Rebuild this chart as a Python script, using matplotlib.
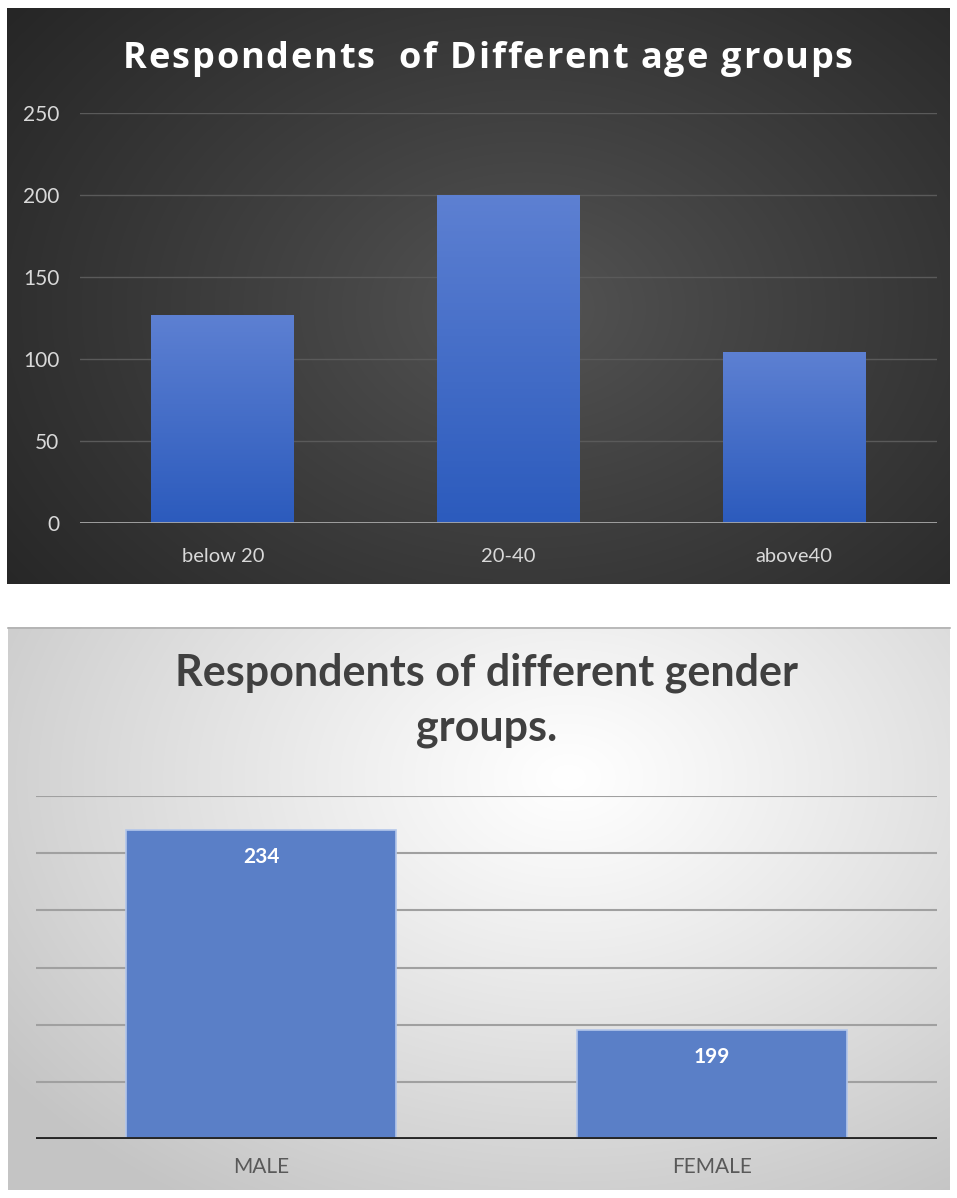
import matplotlib
matplotlib.use("Agg")
import matplotlib.pyplot as plt
import numpy as np
from matplotlib.textpath import TextPath
from matplotlib.font_manager import FontProperties

# data
age_groups = ['below 20', '20-40', 'above40']
age_counts = [127, 200, 104]
age_ticks = [0, 50, 100, 150, 200, 250]

genders = ['MALE', 'FEMALE']
gender_counts = [234, 199]

W, H = 957, 1198
plt.rcParams['font.family'] = ['Lato', 'DejaVu Sans']


def radial(w, h, cx, cy, inner, outer, power=1.0):
    yy, xx = np.mgrid[0:h, 0:w]
    d = np.sqrt(((xx - cx) / (w * 0.75)) ** 2 + ((yy - cy) / (h * 0.9)) ** 2)
    d = np.clip(d, 0, 1) ** power
    inner = np.array(matplotlib.colors.to_rgb(inner))
    outer = np.array(matplotlib.colors.to_rgb(outer))
    return inner[None, None, :] * (1 - d[..., None]) + outer[None, None, :] * d[..., None]


def gradient_bars(ax, bars, top_col, bot_col, zorder=3):
    top = np.array(matplotlib.colors.to_rgb(top_col))
    bot = np.array(matplotlib.colors.to_rgb(bot_col))
    t = np.linspace(0, 1, 100)[:, None]
    img = (top[None, :] * (1 - t) + bot[None, :] * t)[:, None, :]
    for b in bars:
        x0, y0 = b.get_x(), b.get_y()
        im = ax.imshow(img, extent=(x0, x0 + b.get_width(), y0, y0 + b.get_height()),
                       aspect='auto', zorder=zorder, origin='upper')
        im.set_clip_path(b)


def tracked_text(ax, s, xc, y, size, track, **kw):
    # draw text char by char with extra letter spacing (pixels); ax in pixel coords
    fp = FontProperties(family=kw.pop('family'), weight='bold', size=size)
    scale = 100 / 72  # points -> pixels
    ip = TextPath((0, 0), 'I', prop=fp).get_extents().x1
    starts = []
    for i in range(len(s)):
        pre = s[:i]
        if pre:
            tp = TextPath((0, 0), pre + 'I', prop=fp)
            starts.append((tp.get_extents().x1 - ip) * scale)
        else:
            starts.append(0)
    full = TextPath((0, 0), s, prop=fp).get_extents().x1 * scale
    total = full + track * (len(s) - 1)
    x0 = xc - total / 2
    for i, ch in enumerate(s):
        if ch == ' ':
            continue
        ax.text(x0 + starts[i] + track * i, y, ch, ha='left', va='center', fontproperties=fp, **kw)


fig = plt.figure(figsize=(W / 100, H / 100), dpi=100)
fig.patch.set_facecolor('white')

# background panels
bg = fig.add_axes([0, 0, 1, 1], zorder=-5)
bg.set_xlim(0, W)
bg.set_ylim(H, 0)
bg.axis('off')
top_bg = radial(943, 576, 520, 300, '#555555', '#232323', power=0.9)
bg.imshow(top_bg, extent=(7, 950, 584, 8), aspect='auto')
bot_bg = radial(942, 563, 560, 150, '#ffffff', '#c4c4c4', power=1.1)
bg.imshow(bot_bg, extent=(8, 950, 1190, 627), aspect='auto')
bg.plot([8, 950], [627.5, 627.5], color='#b0b0b0', lw=1.2)

# ---- top chart: age groups ----
ax1 = fig.add_axes([80 / W, 1 - 523 / H, 857 / W, 410 / H])
ax1.patch.set_alpha(0)
x = np.arange(len(age_groups))
bars1 = ax1.bar(x, age_counts, width=0.5, color='#3d68c8', zorder=3)
for b in bars1:
    b.set_facecolor('none')
    b.set_edgecolor('none')
gradient_bars(ax1, bars1, '#5d80d2', '#2c5bbd')
ax1.set_xlim(-0.5, 2.5)
ax1.set_ylim(0, 250)
ax1.set_yticks(age_ticks)
ax1.set_xticks(x)
ax1.set_xticklabels(age_groups)
ax1.grid(axis='y', color='#5a5a5a', lw=1.0, zorder=0)
ax1.axhline(0, color='#a8a8a8', lw=2, zorder=4)
for s in ax1.spines.values():
    s.set_visible(False)
ax1.tick_params(length=0, colors='#d9d9d9')
ax1.tick_params(axis='y', pad=15, labelsize=15)
ax1.tick_params(axis='x', pad=18, labelsize=14.5)

# title with letter spacing
tracked_text(bg, 'Respondents  of Different age groups', 487, 59, 26, 1.8,
             color='white', family=['Open Sans', 'DejaVu Sans'])

# ---- bottom chart: gender ----
ax2 = fig.add_axes([36 / W, 1 - 1139 / H, 901 / W, 343 / H])
ax2.patch.set_alpha(0)
x2 = np.arange(len(genders))
bars2 = ax2.bar(x2, [v - 180 for v in gender_counts], bottom=180, width=0.6,
                color='#5a7fc7', edgecolor='#b3c6ea', linewidth=1.2, zorder=3)
ax2.set_xlim(-0.5, 1.5)
ax2.set_ylim(180, 240)
ax2.set_yticks(np.arange(180, 241, 10))
ax2.set_yticklabels([])
ax2.set_xticks(x2)
ax2.set_xticklabels(genders)
ax2.grid(axis='y', color='#a0a0a0', lw=1.5, zorder=0)
for s in ax2.spines.values():
    s.set_visible(False)
ax2.axhline(180, color='#262626', lw=2.8, zorder=4)
ax2.tick_params(length=0, colors='#595959', labelsize=15)
ax2.tick_params(axis='x', pad=13)
for b, v in zip(bars2, gender_counts):
    ax2.text(b.get_x() + b.get_width() / 2, v - 4.7, str(v), ha='center', va='center',
             color='white', fontsize=15, fontweight='bold', zorder=5)

fig.text(487 / W, 1 - 673 / H, 'Respondents of different gender', ha='center', va='center',
         color='#404040', fontsize=31, fontweight='bold')
fig.text(487 / W, 1 - 728 / H, 'groups.', ha='center', va='center',
         color='#404040', fontsize=31, fontweight='bold')

fig.savefig('out.png', dpi=100, facecolor='white')
